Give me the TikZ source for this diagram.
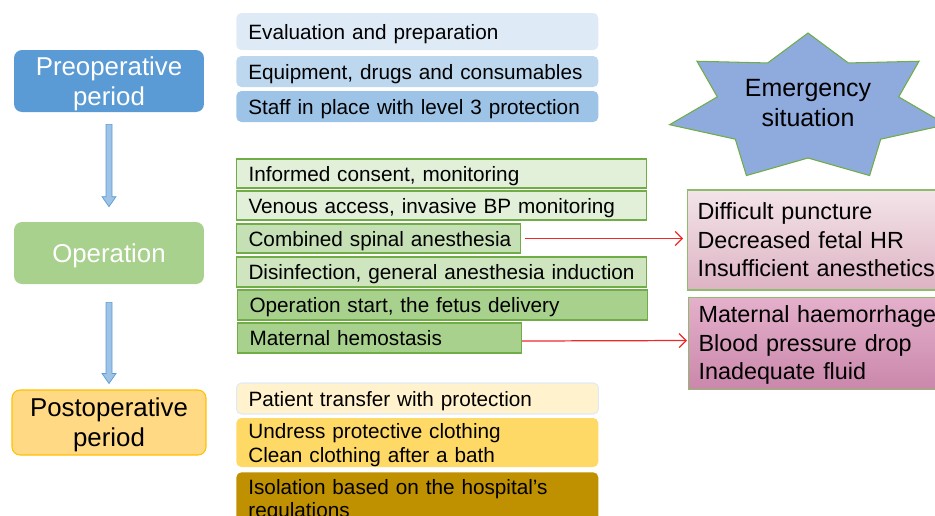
\documentclass[tikz,border=0pt]{standalone}
\usepackage{fontspec}
\setmainfont{Liberation Sans}
\usetikzlibrary{arrows.meta,calc}
\definecolor{preblue}{HTML}{5B9BD5}
\definecolor{opgreen}{HTML}{A9D18E}
\definecolor{postgold}{HTML}{FFD983}
\definecolor{postline}{HTML}{FFC000}
\definecolor{blueA}{HTML}{DEEBF7}
\definecolor{blueB}{HTML}{BDD7EE}
\definecolor{blueC}{HTML}{9DC3E6}
\definecolor{greenA}{HTML}{E2F0D9}
\definecolor{greenB}{HTML}{C5E0B4}
\definecolor{greenline}{HTML}{70AD47}
\definecolor{goldA}{HTML}{FFF2CC}
\definecolor{goldB}{HTML}{FFD966}
\definecolor{goldC}{HTML}{BF9000}
\definecolor{starblue}{HTML}{8FAADC}
\definecolor{redline}{HTML}{F02828}
\definecolor{pinkA}{HTML}{F3E4E9}
\definecolor{pinkB}{HTML}{DDB3C3}
\definecolor{mauveA}{HTML}{E4B0CB}
\definecolor{mauveB}{HTML}{CA87AB}
\newcommand\blockarrow[2]{\draw[flowarrow] ($(#1)+(-3,0)$) -- ($(#2)+(-3,-10)$) -- ++(-4,0) -- (#2) -- ++(7,-10) -- ++(-4,0) -- ($(#1)+(3,0)$) -- cycle;}
\begin{document}
\begin{tikzpicture}[x=0.02cm,y=-0.02cm,
  phase/.style={rectangle,rounded corners=0.16cm,minimum width=3.8cm,minimum height=1.24cm,
    align=center,text depth=0pt,font=\fontsize{14.7}{17}\selectfont},
  task/.style={rectangle,anchor=west,inner xsep=0.24cm,inner ysep=0pt,align=left,text depth=0pt,
    font=\fontsize{11.8}{14.2}\selectfont},
  prep/.style={task,rounded corners=0.1cm,text width=6.76cm,minimum height=0.62cm},
  opstep/.style={task,draw=greenline,line width=0.6pt,minimum height=0.58cm,text width=7.72cm},
  opshort/.style={opstep,text width=5.2cm},
  risk/.style={rectangle,anchor=west,draw=greenline!80,line width=0.6pt,inner xsep=0.2cm,
    text width=4.8cm,align=left,font=\fontsize{13.3}{16.2}\selectfont},
  flowarrow/.style={fill=blueC,draw=preblue,line width=0.4pt},
  riskarrow/.style={draw=redline,line width=0.7pt,-{Straight Barb[length=1.4mm,width=2.8mm]}},
  emstar/.style={fill=starblue,draw=greenline,line width=0.6pt}]
\useasboundingbox (0,0) rectangle (935,515);
\clip (0,0) rectangle (935,515);

% phases on the left
\node[phase,fill=preblue,text=white] (pre) at (109,81) {Preoperative\\period};
\node[phase,fill=opgreen,text=white] (op) at (109,253) {Operation};
\node[phase,fill=postgold,draw=postline,line width=0.6pt,minimum width=3.88cm,minimum height=1.3cm]
  (post) at (109,422.5) {Postoperative\\period};
\coordinate (a1) at ($(pre.south)+(0,12)$); \coordinate (a2) at ($(op.north)+(0,-15)$);
\coordinate (a3) at ($(op.south)+(0,18)$); \coordinate (a4) at ($(post.north)+(0,-6)$);
\blockarrow{a1}{a2}
\blockarrow{a3}{a4}

% preoperative steps
\node[prep,fill=blueA,minimum height=0.74cm] (e1) at (236,31.5) {Evaluation and preparation};
\node[prep,fill=blueB] (e2) at (236,71.5) {Equipment, drugs and consumables};
\node[prep,fill=blueC] (e3) at (236,106.5) {Staff in place with level 3 protection};

% operation steps
\node[opstep,fill=greenA] (s1) at (236,173.5) {Informed consent, monitoring};
\node[opstep,fill=greenA] (s2) at (236,205.5) {Venous access, invasive BP monitoring};
\node[opshort,fill=greenB] (s3) at (236,238.5) {\mbox{Combined spinal anesthesia}};
\node[opstep,fill=greenB!85!white,minimum height=0.6cm] (s4) at (236,272) {\mbox{Disinfection, general anesthesia induction}};
\node[opstep,fill=opgreen,minimum height=0.6cm] (s5) at (237,305) {Operation start, the fetus delivery};
\node[opshort,fill=opgreen,minimum height=0.6cm] (s6) at (237,338) {\mbox{Maternal hemostasis}};

% postoperative steps
\node[prep,fill=goldA,draw=blueA,line width=0.6pt] (t1) at (236,398.5) {Patient transfer with protection};
\node[prep,fill=goldB,minimum height=0.98cm,text height=11.3pt,text depth=16.4pt] (t2) at (236,442.5)
  {Undress protective clothing\\Clean clothing after a bath};
\node[prep,fill=goldC,anchor=north west,minimum height=0.98cm,text depth=,text height=12.6pt,
  font=\fontsize{11.8}{13.2}\selectfont] (t3) at (236,472) {Isolation based on the hospital's\\regulations};

% emergency star
\draw[emstar] (808,33) \foreach \k in {0,...,6}{
  -- ({808+93*cos(90+\k*360/7+360/14)},{108-50*sin(90+\k*360/7+360/14)})
  -- ({808+142*cos(90+(\k+1)*360/7)},{108-75*sin(90+(\k+1)*360/7)}) } -- cycle;
\node[align=center,font=\fontsize{14.2}{17.6}\selectfont] (emg) at (808,103) {Emergency\\situation};

% complications
\node[risk,top color=pinkA,bottom color=pinkB,minimum height=2cm] (r1) at (687,240)
  {Difficult puncture\\Decreased fetal HR\\Insufficient anesthetics};
\node[risk,top color=mauveA,bottom color=mauveB,inner ysep=0pt,text height=14.5pt,text depth=38.2pt]
  (r2) at (688,343.5) {Maternal haemorrhage\\Blood pressure drop\\Inadequate fluid};
\draw[riskarrow,shorten <=0.08cm,shorten >=0.08cm] (s3.east) -- (s3.east -| r1.west);
\draw[riskarrow,shorten >=0.02cm] ($(s6.east)+(0,3)$) -- ($(r2.west)+(0,-3)$);
\end{tikzpicture}
\end{document}
